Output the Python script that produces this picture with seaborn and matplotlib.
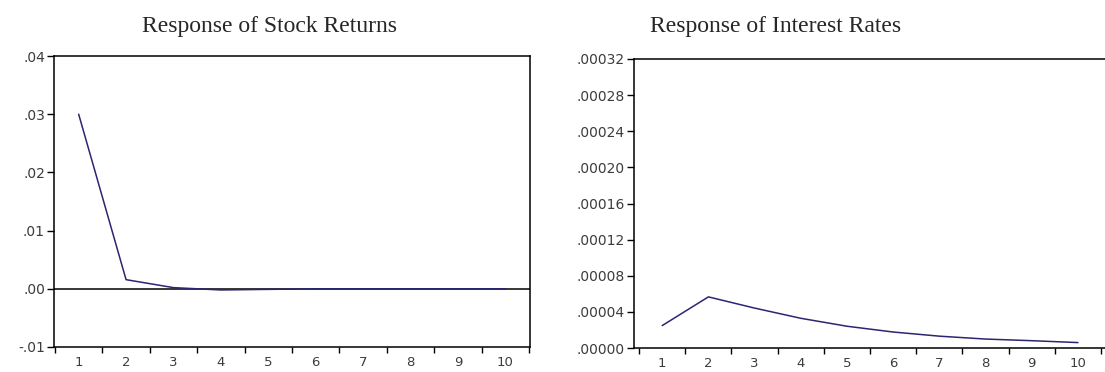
import matplotlib
matplotlib.use("Agg")
import matplotlib.pyplot as plt
from matplotlib.ticker import FuncFormatter, FixedLocator
import seaborn as sns
import pandas as pd

periods = [1, 2, 3, 4, 5, 6, 7, 8, 9, 10]
stock_response = [0.0300, 0.00157, 0.0002, -0.0002, -0.0001, 0.0, 0.0, 0.0, 0.0, 0.0]
rate_response = [0.0000248, 0.0000566, 0.0000442, 0.0000329, 0.0000241,
                 0.0000177, 0.0000131, 0.0000099, 0.0000081, 0.0000060]
titles = ["Response of Stock Returns", "Response of Interest Rates"]
stock_yticks = [-0.01, 0.00, 0.01, 0.02, 0.03, 0.04]
rate_yticks = [0.0, 0.00004, 0.00008, 0.00012, 0.00016, 0.00020, 0.00024, 0.00028, 0.00032]

sns.set_style("white")
plt.rcParams["font.family"] = ["DejaVu Sans"]

W, H = 1105, 372
fig = plt.figure(figsize=(W / 100, H / 100), dpi=100)

def px_axes(x0, y0, x1, y1):
    return fig.add_axes([x0 / W, 1 - y1 / H, (x1 - x0) / W, (y1 - y0) / H])

line_color = "#2a2670"
tick_color = "#3c3c3c"

def fmt(decimals):
    def f(v, pos):
        s = f"{v:.{decimals}f}"
        if s.startswith("-0"):
            s = "-" + s[2:]
        elif s.startswith("0"):
            s = s[1:]
        return s
    return FuncFormatter(f)

ax1 = px_axes(54, 56, 530, 347)
ax2 = px_axes(634, 59, 1108, 348)

df1 = pd.DataFrame({"period": periods, "value": stock_response})
df2 = pd.DataFrame({"period": periods, "value": rate_response})

sns.lineplot(data=df1, x="period", y="value", ax=ax1, color=line_color, linewidth=1.1)
sns.lineplot(data=df2, x="period", y="value", ax=ax2, color=line_color, linewidth=1.1)
ax1.axhline(0, color="black", linewidth=1.1, zorder=1)

for ax, yt, dec, xl in [(ax1, stock_yticks, 2, (0.48, 10.52)),
                        (ax2, rate_yticks, 5, (0.39, 10.65))]:
    ax.set_xlim(*xl)
    ax.set_ylim(yt[0], yt[-1])
    ax.set_yticks(yt)
    ax.yaxis.set_major_formatter(fmt(dec))
    ax.xaxis.set_major_locator(FixedLocator([p + 0.5 for p in [0] + periods]))
    ax.xaxis.set_major_formatter(FuncFormatter(lambda v, p: ""))
    ax.xaxis.set_minor_locator(FixedLocator(periods))
    ax.xaxis.set_minor_formatter(FuncFormatter(lambda v, p: f"{int(round(v))}"))
    ax.tick_params(axis="x", which="major", direction="out", length=4, width=1,
                   color="black", bottom=True)
    ax.tick_params(axis="x", which="minor", length=0, pad=6.5, labelsize=9.5,
                   labelcolor=tick_color, bottom=True)
    ax.tick_params(axis="y", which="major", direction="out", length=5, width=1,
                   color="black", pad=1.5, labelsize=10, labelcolor=tick_color, left=True)
    ax.set_xlabel("")
    ax.set_ylabel("")
    for s in ax.spines.values():
        s.set_visible(True)
        s.set_color("black")
        s.set_linewidth(1.1)

fig.text(269 / W, 1 - 32 / H, titles[0], ha="center", va="baseline",
         fontsize=17, family=["Liberation Serif"])
fig.text(776 / W, 1 - 32 / H, titles[1], ha="center", va="baseline",
         fontsize=17, family=["Liberation Serif"])

fig.savefig("out.png", dpi=100, facecolor="white")
